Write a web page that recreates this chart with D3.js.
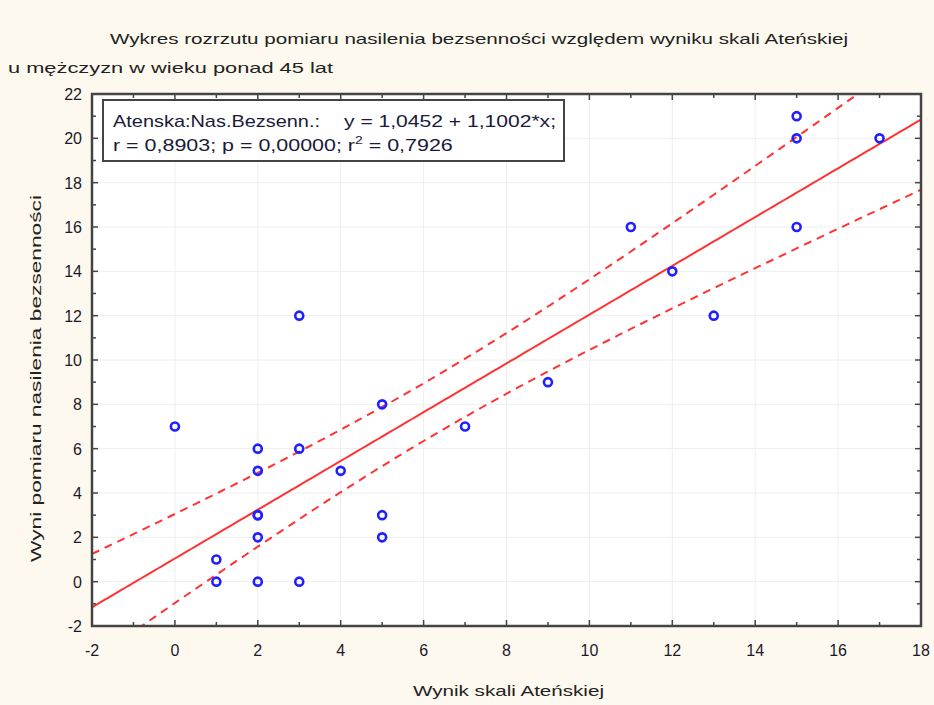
<!DOCTYPE html>
<html><head><meta charset="utf-8">
<script src="https://cdn.jsdelivr.net/npm/d3@7"></script>
<style>
html,body{margin:0;padding:0;background:#fdf9ee;}
svg{display:block;}
text{font-family:"Liberation Sans",Arial,sans-serif;}
</style></head>
<body>
<svg id="chart" width="934" height="705"></svg>
<script>
// Data
const xValues = [0,1,1,2,2,2,2,2,2,3,3,3,4,5,5,5,7,9,11,12,13,15,15,15,17];
const yValues = [7,1,0,6,5,3,3,2,0,12,6,0,5,8,3,2,7,9,16,14,12,21,20,16,20];
const xTicks = [-2,0,2,4,6,8,10,12,14,16,18];
const yTicks = [-2,0,2,4,6,8,10,12,14,16,18,20,22];
const intercept = 1.0452, slope = 1.1002;
const titleLine1 = "Wykres rozrzutu pomiaru nasilenia bezsenności względem wyniku skali Ateńskiej";
const titleLine2 = "u mężczyzn w wieku ponad 45 lat";
const xTitle = "Wynik skali Ateńskiej";
const yTitle = "Wyni pomiaru nasilenia bezsenności";
const legendLine1a = "Atenska:Nas.Bezsenn.:";
const legendLine1b = "y = 1,0452 + 1,1002*x;";
const legendLine2a = "r = 0,8903; p = 0,00000; r";
const legendLine2b = " = 0,7926";

const svg = d3.select("#chart");
const L = 92, R = 921, T = 94, B = 626;
const x = d3.scaleLinear().domain([-2,18]).range([L,R]);
const y = d3.scaleLinear().domain([-2,22]).range([B,T]);

svg.append("rect").attr("width",934).attr("height",705).attr("fill","#fdf9ee");
svg.append("rect").attr("x",L).attr("y",T).attr("width",R-L).attr("height",B-T).attr("fill","#ffffff");

// gridlines
const grid = svg.append("g").attr("stroke","#eeeeee").attr("stroke-width",1);
xTicks.forEach(t=>grid.append("line").attr("x1",x(t)).attr("x2",x(t)).attr("y1",T).attr("y2",B));
yTicks.forEach(t=>grid.append("line").attr("y1",y(t)).attr("y2",y(t)).attr("x1",L).attr("x2",R));

// clip
svg.append("clipPath").attr("id","clip").append("rect").attr("x",L).attr("y",T).attr("width",R-L).attr("height",B-T);

// regression and confidence band computed from data
const n = xValues.length;
const xm = d3.mean(xValues);
const sxx = d3.sum(xValues, v=>(v-xm)*(v-xm));
const sse = d3.sum(xValues.map((v,i)=>Math.pow(yValues[i]-(intercept+slope*v),2)));
const s = Math.sqrt(sse/(n-2));
const tcrit = 2.0687;
const xs = d3.range(-2,18.001,0.1);
const fit = v=>intercept+slope*v;
const hw = v=>tcrit*s*Math.sqrt(1/n + (v-xm)*(v-xm)/sxx);
const line = d3.line().x(d=>x(d[0])).y(d=>y(d[1]));
const pg = svg.append("g").attr("clip-path","url(#clip)").attr("fill","none").attr("stroke","#ff3333");
pg.append("path").attr("d",line(xs.map(v=>[v,fit(v)]))).attr("stroke-width",2);
pg.append("path").attr("d",line(xs.map(v=>[v,fit(v)+hw(v)]))).attr("stroke-width",2).attr("stroke-dasharray","8,6");
pg.append("path").attr("d",line(xs.map(v=>[v,fit(v)-hw(v)]))).attr("stroke-width",2).attr("stroke-dasharray","8,6");

// points
svg.append("g").selectAll("circle").data(xValues).join("circle")
  .attr("cx",(d)=>x(d)).attr("cy",(d,i)=>y(yValues[i])).attr("r",4)
  .attr("fill","none").attr("stroke","#1f1fff").attr("stroke-width",2.6);

// axes frame with inward ticks
const axCol = "#444";
const minorX = d3.range(-2,18.001,1), minorY = d3.range(-2,22.001,1);
const ax = svg.append("g").attr("stroke",axCol);
minorX.forEach(t=>{
  const len = (t%2===0)?6:4;
  ax.append("line").attr("x1",x(t)).attr("x2",x(t)).attr("y1",B).attr("y2",B-len).attr("stroke-width",1.5);
  ax.append("line").attr("x1",x(t)).attr("x2",x(t)).attr("y1",T).attr("y2",T+len).attr("stroke-width",1.5);
});
minorY.forEach(t=>{
  const len = (t%2===0)?6:4;
  ax.append("line").attr("y1",y(t)).attr("y2",y(t)).attr("x1",L).attr("x2",L+len).attr("stroke-width",1.5);
  ax.append("line").attr("y1",y(t)).attr("y2",y(t)).attr("x1",R).attr("x2",R-len).attr("stroke-width",1.5);
});
svg.append("rect").attr("x",L).attr("y",T).attr("width",R-L).attr("height",B-T)
  .attr("fill","none").attr("stroke",axCol).attr("stroke-width",2.5);

// tick labels
svg.append("g").selectAll("text").data(xTicks).join("text")
  .attr("x",d=>x(d)).attr("y",656).attr("text-anchor","middle")
  .attr("font-size",16).attr("fill","#1a1a2e").text(d=>d);
svg.append("g").selectAll("text").data(yTicks).join("text")
  .attr("x",82).attr("y",d=>y(d)+6).attr("text-anchor","end")
  .attr("font-size",16).attr("fill","#1a1a2e").text(d=>d);

// titles
svg.append("text").attr("x",110).attr("y",44).attr("font-size",15).attr("fill","#222")
  .attr("textLength",738).attr("lengthAdjust","spacingAndGlyphs").text(titleLine1);
svg.append("text").attr("x",8).attr("y",73).attr("font-size",15).attr("fill","#222")
  .attr("textLength",325).attr("lengthAdjust","spacingAndGlyphs").text(titleLine2);
svg.append("text").attr("x",413).attr("y",696).attr("font-size",15).attr("fill","#222")
  .attr("textLength",191).attr("lengthAdjust","spacingAndGlyphs").text(xTitle);
svg.append("text").attr("transform","translate(41,562) rotate(-90)").attr("font-size",15).attr("fill","#222")
  .attr("textLength",367).attr("lengthAdjust","spacingAndGlyphs").text(yTitle);

// legend box
svg.append("rect").attr("x",103).attr("y",100).attr("width",461).attr("height",61)
  .attr("fill","#ffffff").attr("stroke","#444").attr("stroke-width",2);
svg.append("text").attr("x",113).attr("y",127).attr("font-size",17).attr("fill","#1a1a3a")
  .attr("textLength",207).attr("lengthAdjust","spacingAndGlyphs").text(legendLine1a);
svg.append("text").attr("x",344).attr("y",127).attr("font-size",17).attr("fill","#1a1a3a")
  .attr("textLength",212).attr("lengthAdjust","spacingAndGlyphs").text(legendLine1b);
const l2 = svg.append("text").attr("font-size",17).attr("fill","#1a1a3a");
l2.append("tspan").text(legendLine2a);
l2.append("tspan").attr("dy",-7).attr("font-size",11).text("2");
l2.append("tspan").attr("dy",7).text(legendLine2b);
const w2 = l2.node().getComputedTextLength();
l2.attr("transform",`translate(113,151) scale(${340/w2},1)`);
</script>
</body></html>
